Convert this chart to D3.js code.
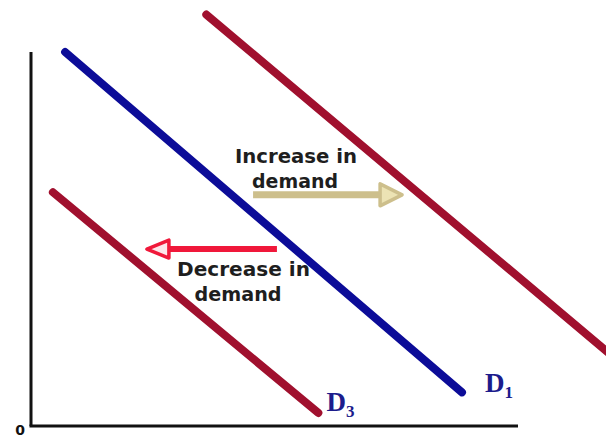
<!DOCTYPE html>
<html>
<head>
<meta charset="utf-8">
<script src="https://cdn.jsdelivr.net/npm/d3@7"></script>
<style>
  html, body { margin: 0; padding: 0; background: #ffffff; }
  svg { display: block; }
</style>
</head>
<body>
<svg id="chart" width="606" height="439"></svg>
<script>
// Demand curves: quantity (x) and price (y) end points, in chart units 0–100
const curveNames = ["D2", "D1", "D3"];
const curveStarts = [[36, 110], [7, 100], [4.5, 62.5]];
const curveEnds = [[120, 18], [88.5, 9], [59, 3.5]];
const curveColors = ["#a0102e", "#0c0c98", "#a0102e"];

// Labels placed at the foot of the labelled curves
const curveLabels = [null, ["D", "1"], ["D", "3"]];
const labelAnchors = [null, [93.2, 9], [60.7, 4]];

// Shift arrows: start x, end x, height y
const shiftNames = ["Increase in demand", "Decrease in demand"];
const shiftFrom = [45.6, 50.5];
const shiftTo = [76.2, 23.8];
const shiftLevel = [61.8, 47.3];
const shiftColors = ["#cdbf8c", "#f0183a"];
const shiftHeadFill = ["#ece3b4", "#fde6ea"];
const shiftText = [["Increase in", "demand"], ["Decrease in", "demand"]];

const originLabel = "0";

const svg = d3.select("#chart");
const x = d3.scaleLinear().domain([0, 100]).range([31, 518]);
const y = d3.scaleLinear().domain([0, 100]).range([426, 52]);

// Axes (bare lines, no ticks)
const axisG = svg.append("g");
axisG.append("line")
  .attr("x1", x(0)).attr("y1", y(100)).attr("x2", x(0)).attr("y2", y(0))
  .attr("stroke", "#111").attr("stroke-width", 3);
axisG.append("line")
  .attr("x1", x(0) - 1.5).attr("y1", y(0)).attr("x2", x(100)).attr("y2", y(0))
  .attr("stroke", "#111").attr("stroke-width", 3);
axisG.append("text")
  .attr("x", x(0) - 11).attr("y", y(0) + 9)
  .attr("text-anchor", "middle")
  .attr("font-family", "DejaVu Sans, Verdana, sans-serif")
  .attr("font-weight", "bold").attr("font-size", 14)
  .attr("fill", "#111")
  .text(originLabel);

// Demand curves
const line = d3.line().x(d => x(d[0])).y(d => y(d[1]));
svg.append("g").selectAll("path")
  .data(curveNames.map((n, i) => ({ name: n, pts: [curveStarts[i], curveEnds[i]], color: curveColors[i] })))
  .join("path")
  .attr("d", d => line(d.pts))
  .attr("fill", "none")
  .attr("stroke", d => d.color)
  .attr("stroke-width", 8)
  .attr("stroke-linecap", "round");

// Curve labels with subscripts
curveLabels.forEach((lab, i) => {
  if (!lab) return;
  const t = svg.append("text")
    .attr("x", x(labelAnchors[i][0])).attr("y", y(labelAnchors[i][1]))
    .attr("font-family", "Liberation Serif, Times New Roman, serif")
    .attr("font-weight", "bold").attr("font-size", 27)
    .attr("fill", "#1c1c8c");
  t.append("tspan").text(lab[0]);
  t.append("tspan").attr("font-size", 17).attr("dy", 6).text(lab[1]);
});

// Shift arrows
shiftNames.forEach((name, i) => {
  const x0 = x(shiftFrom[i]), x1 = x(shiftTo[i]), yy = y(shiftLevel[i]);
  const dir = Math.sign(x1 - x0);
  const headLen = 22;
  const half = i === 0 ? 11 : 9;
  const shaft = i === 0 ? 7 : 6;
  const g = svg.append("g");
  g.append("line")
    .attr("x1", x0).attr("y1", yy)
    .attr("x2", x1 - dir * headLen).attr("y2", yy)
    .attr("stroke", shiftColors[i]).attr("stroke-width", shaft);
  const head = d3.path();
  head.moveTo(x1, yy);
  head.lineTo(x1 - dir * headLen, yy - half);
  head.lineTo(x1 - dir * headLen, yy + half);
  head.closePath();
  g.append("path")
    .attr("d", head.toString())
    .attr("fill", shiftHeadFill[i])
    .attr("stroke", shiftColors[i])
    .attr("stroke-width", 3.5)
    .attr("stroke-linejoin", "round");
});

// Shift annotations
const textPos = [[[296, 163], [295, 188]], [[243.5, 276], [238, 301]]];
const textWidths = [[122, 86], [133, 87]];
shiftText.forEach((lines, i) => {
  lines.forEach((l, j) => {
    svg.append("text")
      .attr("x", textPos[i][j][0]).attr("y", textPos[i][j][1])
      .attr("text-anchor", "middle")
      .attr("font-family", "DejaVu Sans, Verdana, sans-serif")
      .attr("font-weight", "bold").attr("font-size", 19)
      .attr("textLength", textWidths[i][j])
      .attr("lengthAdjust", "spacingAndGlyphs")
      .attr("fill", "#1e1e1e")
      .text(l);
  });
});
</script>
</body>
</html>
